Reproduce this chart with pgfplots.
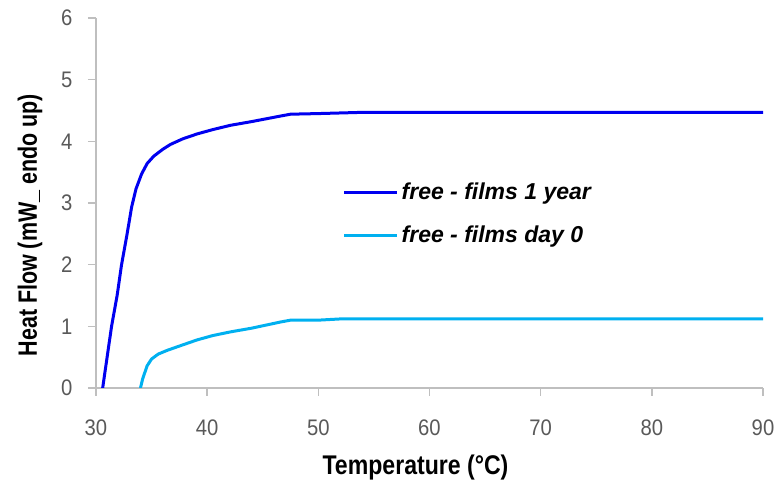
\documentclass[border=0pt]{standalone}
\usepackage{fontspec}
\setmainfont{Liberation Sans}
\newfontfamily\condfont{Liberation Sans}[FakeStretch=0.9]
\newfontfamily\titlefont{Liberation Sans}[FakeStretch=0.855]
\newfontfamily\ytitlefont{Liberation Sans}[FakeStretch=0.81]
\usepackage{pgfplots}
\usetikzlibrary{calc}
\pgfplotsset{compat=1.18}
\definecolor{axgray}{HTML}{BFBFBF}
\definecolor{tickgray}{HTML}{595959}
\definecolor{darkblue}{HTML}{0000F0}
\definecolor{lightblue}{HTML}{00B0F0}
\begin{document}
\begin{tikzpicture}
\begin{axis}[
  scale only axis, width=667pt, height=370pt,
  xmin=30, xmax=90, ymin=0, ymax=6,
  xtick={30,40,...,90}, ytick={0,1,...,6},
  axis lines*=left,
  axis line style={axgray, line width=1.5pt},
  tick style={axgray, line width=1.5pt},
  tick align=outside, major tick length=8pt,
  /pgf/number format/assume math mode=true,
  tick label style={font=\condfont\fontsize{22.5}{24}\selectfont, text=tickgray},
  xticklabel style={yshift=-20pt},
  yticklabel style={xshift=-12pt},
  xlabel={\textbf{Temperature (°C)}},
  ylabel={\textbf{Heat Flow (mW\_ endo up)}},
  xlabel style={font=\titlefont\fontsize{27}{30}\selectfont, at={(rel axis cs:0.479,0)}, anchor=base, yshift=-87pt},
  ylabel style={font=\ytitlefont\fontsize{26.5}{30}\selectfont, at={(rel axis cs:0,0.44)}, anchor=base, yshift=59pt},
  legend style={draw=none, fill=none, at={(rel axis cs:0.365,0.565)}, anchor=north west,
    font=\bfseries\itshape\fontsize{23}{26}\selectfont, row sep=21pt,
    legend cell align=left},
  legend image code/.code={\draw[#1] (0pt,0pt) -- (53pt,0pt); \path (54pt,0pt);},
]
\addplot[darkblue, line width=3pt] coordinates {
(30.6,0) (31.0,0.5) (31.4,1.0) (31.9,1.5) (32.3,2.0) (32.8,2.5) (33.2,2.93) (33.6,3.23)
(34.1,3.47) (34.6,3.64) (35.2,3.76) (36.0,3.87) (36.7,3.95) (37.8,4.04) (39.1,4.12)
(40.5,4.19) (42.1,4.26) (44,4.32) (46.6,4.41) (47.5,4.44) (50,4.45) (52,4.46) (54,4.47)
(60,4.47) (70,4.47) (80,4.47) (90,4.47)};
\addlegendentry{free - films 1 year}
\addplot[lightblue, line width=3pt] coordinates {
(34.0,0) (34.2,0.15) (34.6,0.36) (35.0,0.47) (35.6,0.55) (36.4,0.61) (37.5,0.68)
(39.1,0.78) (40.5,0.85) (42.1,0.91) (44,0.97) (46.6,1.07) (47.5,1.10) (50,1.10)
(52,1.12) (60,1.12) (70,1.12) (80,1.12) (90,1.12)};
\addlegendentry{free - films day 0}
\end{axis}
\path (current axis.south west) ++(-96pt,-99pt) rectangle ($(current axis.north east)+(16pt,18pt)$);
\end{tikzpicture}
\end{document}
